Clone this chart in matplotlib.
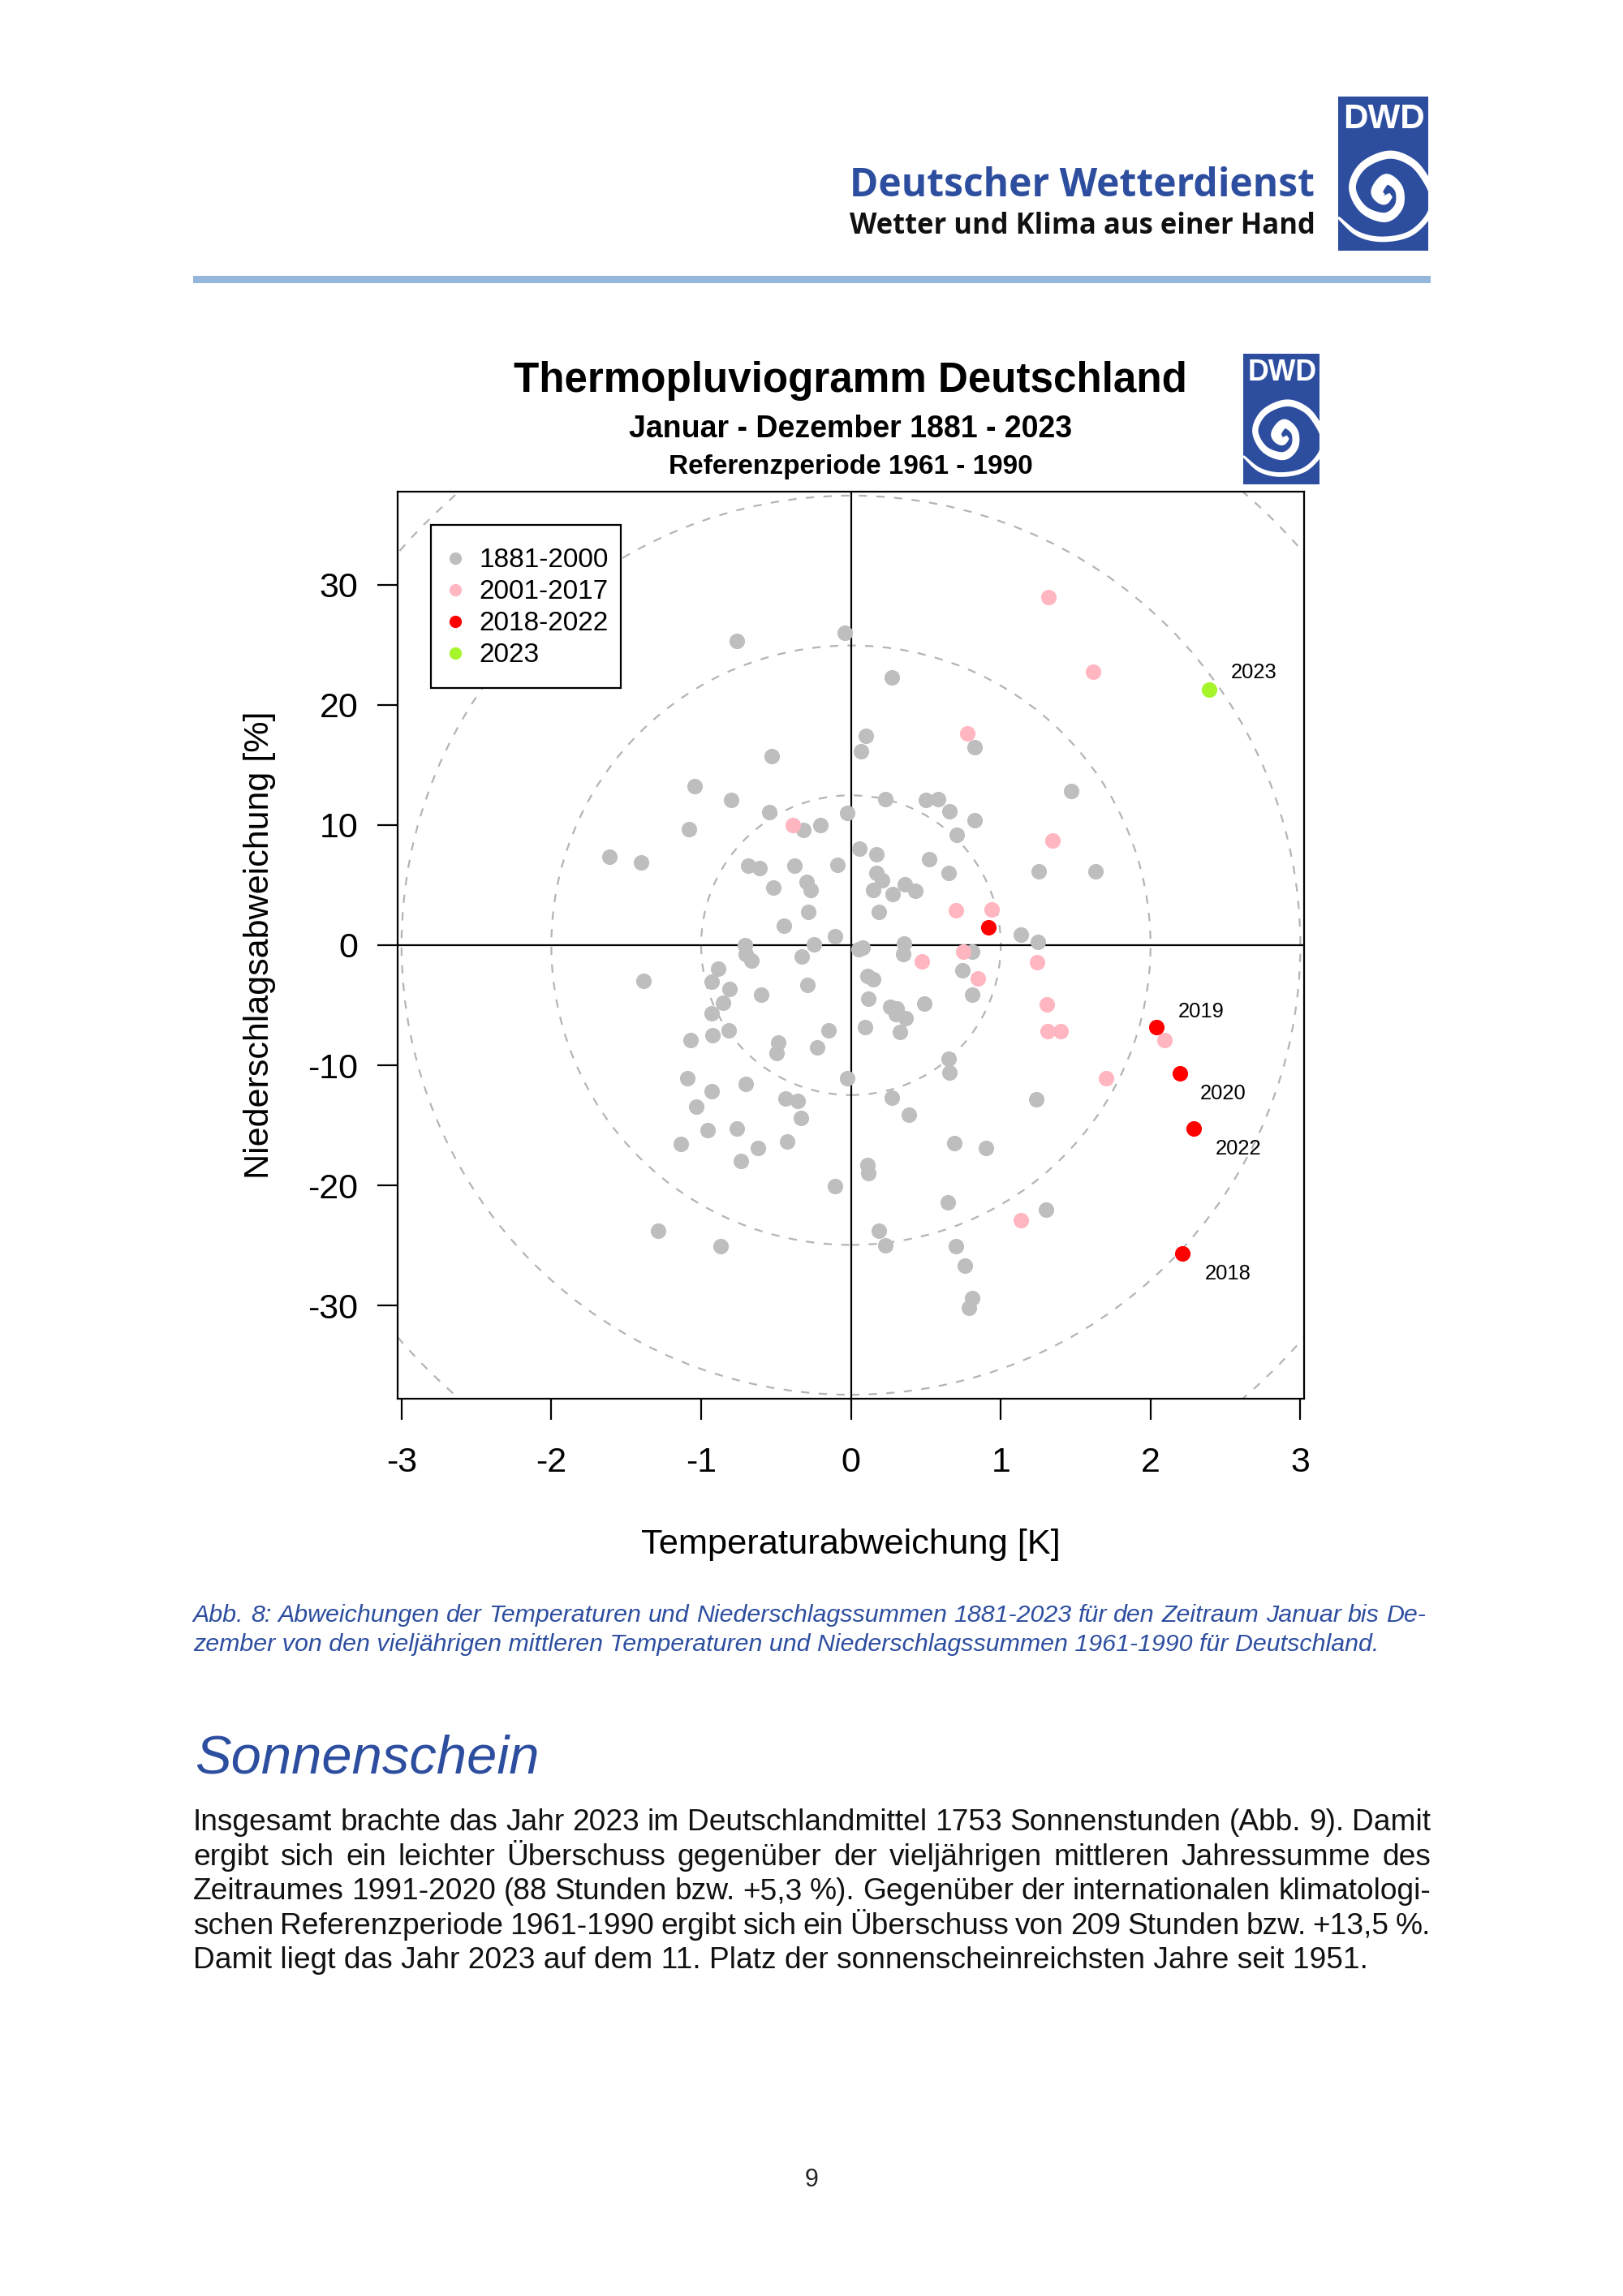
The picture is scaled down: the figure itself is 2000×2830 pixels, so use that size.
import numpy as np
import matplotlib
matplotlib.use("Agg")
import matplotlib.pyplot as plt
from matplotlib.lines import Line2D
from matplotlib.patches import Ellipse, Rectangle, Polygon

T_1881_2000 = [-0.760,-0.043,-0.526,-1.046,-0.798,-0.545,-1.082,-0.024,-0.317,-0.203,0.101,0.065,-1.612,-1.403,-0.685,-0.609,
 -0.379,-0.091,0.059,-0.296,-0.267,-0.520,-0.283,-0.449,-0.107,-0.248,-0.708,-0.702,-0.665,-0.327,-0.887,0.049,0.080,
 0.271,0.824,0.229,0.499,0.584,0.658,0.824,1.469,0.708,0.171,0.522,0.654,1.255,1.633,0.169,0.209,0.146,0.281,0.360,0.428,
 0.186,1.137,1.247,0.354,0.348,0.812,0.743,
 -1.386,-0.928,-0.810,-0.597,-0.856,-0.932,-0.292,-0.816,-0.922,-1.069,-0.149,-0.485,-0.497,-0.223,0.094,0.111,0.146,0.115,
 -1.090,-0.702,-0.928,-0.024,-1.032,-0.437,-0.354,-0.331,-0.957,-0.760,-1.135,-0.425,-0.619,-0.737,-0.105,0.112,0.117,
 -1.285,-0.872,0.188,
 0.812,0.488,0.260,0.304,0.298,0.364,0.329,0.652,0.658,0.271,0.389,1.237,0.690,0.901,0.648,1.303,0.229,0.702,0.760,0.812,0.789]
P_1881_2000 = [25.30,26.01,15.75,13.24,12.10,11.10,9.67,11.02,9.62,9.98,17.42,16.11,7.35,6.91,6.60,6.39,
 6.63,6.68,8.02,5.25,4.60,4.81,2.77,1.61,0.71,0.06,-0.02,-0.74,-1.26,-0.92,-1.96,-0.36,-0.18,
 22.28,16.47,12.18,12.10,12.18,11.17,10.42,12.82,9.18,7.55,7.14,6.03,6.16,6.16,6.03,5.38,4.60,4.24,5.07,4.55,
 2.77,0.89,0.26,0.11,-0.74,-0.54,-2.11,
 -2.95,-3.03,-3.67,-4.13,-4.82,-5.69,-3.34,-7.08,-7.47,-7.93,-7.08,-8.12,-8.97,-8.48,-6.80,-2.56,-2.82,-4.43,
 -11.09,-11.56,-12.15,-11.04,-13.46,-12.77,-12.95,-14.35,-15.38,-15.23,-16.54,-16.34,-16.85,-17.93,-20.03,-18.27,-19.00,
 -23.77,-25.02,-23.77,
 -4.13,-4.89,-5.15,-5.28,-5.72,-6.10,-7.21,-9.47,-10.63,-12.72,-14.13,-12.82,-16.44,-16.85,-21.40,-21.99,-24.97,-25.02,-26.70,-29.38,-30.21]
T_2001_2017 = [1.320,1.616,0.777,1.345,0.700,0.942,0.750,0.474,1.243,0.847,1.307,1.314,1.401,2.093,1.701,1.137,-0.389]
P_2001_2017 = [28.97,22.77,17.63,8.74,2.88,2.95,-0.54,-1.34,-1.41,-2.74,-4.94,-7.16,-7.16,-7.88,-11.09,-22.89,9.98]
T_2018_2022 = [2.215,2.041,2.195,0.920,2.288]
P_2018_2022 = [-25.66,-6.85,-10.70,1.46,-15.23]
T_2023 = [2.391]
P_2023 = [21.30]

YEAR_LABELS = ["2023","2019","2020","2022","2018"]
YEAR_LABEL_T = [2.692,2.340,2.485,2.584,2.516]
YEAR_LABEL_P = [22.85,-5.38,-12.17,-16.75,-27.16]

RINGS = [1,2,3,4]
RING_T = 1.0
RING_P = 12.47

XTICKS = [-3,-2,-1,0,1,2,3]
YTICKS = [-30,-20,-10,0,10,20,30]
LEGEND_LABELS = ["1881-2000","2001-2017","2018-2022","2023"]
COL_GRAY, COL_PINK, COL_RED, COL_GREEN = "#BEBEBE","#FFB6C1","#FF0000","#A6F52A"
BLUE = "#2D4E9F"

# outline of the logo's spiral, centre outwards, in a 330 x 570 logo box
SPIRAL_X = [194,167,142,177,222,222,172,92,52,92,187,272,327,347,330,262,162,72,0]
SPIRAL_Y = [361,378,348,303,338,403,443,413,333,253,213,243,313,373,438,503,523,503,443]
SPIRAL_W = [18,38,44,40,32,32,35,30,26,28,30,28,26,24,20,20,20,18,10]

ARIAL = "Liberation Sans"
W, H = 2000, 2830
fig = plt.figure(figsize=(W/200, H/200), dpi=200, facecolor="white")
rend = fig.canvas.get_renderer()
fx = lambda p: p/W
fy = lambda p: 1-p/H

def fit(t, target):
    bb = t.get_window_extent(rend)
    t.set_fontsize(t.get_fontsize()*target/max(bb.width, bb.height))
    return t

def line(x, y, s, target=None, **kw):
    kw.setdefault("family", ARIAL)
    kw.setdefault("fontsize", 12)
    kw.setdefault("va", "baseline")
    t = fig.text(fx(x), fy(y), s, **kw)
    if target:
        fit(t, target)
    return t

def justified(s, x0, x1, y, fs, **kw):
    words = s.split(" ")
    ts = [fig.text(fx(x0), fy(y), w, family=ARIAL, fontsize=fs, va="baseline", **kw) for w in words]
    ws = [t.get_window_extent(rend).width for t in ts]
    gap = (x1-x0-sum(ws))/(len(ws)-1)
    x = x0
    for t, w in zip(ts, ws):
        t.set_x(fx(x))
        x += w+gap

def catmull(a, n=24):
    a = np.asarray(a, float)
    p = np.r_[2*a[:1]-a[1:2], a, 2*a[-1:]-a[-2:-1]]
    out = []
    for i in range(1, len(p)-2):
        s = np.linspace(0, 1, n, endpoint=False)
        out.append(0.5*(2*p[i]+(p[i+1]-p[i-1])*s+(2*p[i-1]-5*p[i]+4*p[i+1]-p[i+2])*s**2
                        +(3*p[i]-p[i-1]-3*p[i+1]+p[i+2])*s**3))
    out.append(a[-1:])
    return np.concatenate(out)

def logo(x0, y0, x1, y1):
    k = (x1-x0)/330.0
    rect = Rectangle((fx(x0), fy(y1)), fx(x1-x0), (y1-y0)/H, transform=fig.transFigure, fc=BLUE, ec="none", zorder=5)
    fig.add_artist(rect)
    t = fig.text(fx((x0+x1)/2+1), fy(y0+70*k), "DWD", color="white", family=ARIAL, weight="bold",
                 ha="center", va="center_baseline", fontsize=12, zorder=6)
    fit(t, 300*k)
    sx, sy, sw = catmull(SPIRAL_X), catmull(SPIRAL_Y), catmull(SPIRAL_W)
    dx, dy = np.gradient(sx), np.gradient(sy)
    nn = np.hypot(dx, dy)
    nx, ny = -dy/nn, dx/nn
    px = x0+k*np.r_[sx+nx*sw/2, (sx-nx*sw/2)[::-1]]
    py = y0+k*np.r_[sy+ny*sw/2, (sy-ny*sw/2)[::-1]]
    poly = Polygon(np.column_stack([px/W, 1-py/H]), closed=True, transform=fig.transFigure, fc="white", ec="none", zorder=6)
    fig.add_artist(poly)
    poly.set_clip_path(rect)

# page header
line(1047, 242, "Deutscher Wetterdienst", 574, family="Open Sans", weight="bold", color=BLUE)
line(1047, 288, "Wetter und Klima aus einer Hand", 574, family="Open Sans", weight="bold", color="#111111")
logo(1649, 119, 1760, 309)
fig.add_artist(Rectangle((fx(238), fy(349)), fx(1525), 9/H, transform=fig.transFigure, fc="#95B7DB", ec="none"))

# chart titles
line(1048, 483, "Thermopluviogramm Deutschland", 832, weight="bold", ha="center")
line(1048, 539, "Januar - Dezember 1881 - 2023", 548, weight="bold", ha="center")
line(1048, 584, "Referenzperiode 1961 - 1990", 450, weight="bold", ha="center")
logo(1532, 436, 1626, 597)

# plot
ax = fig.add_axes([490/W, 1-1724/H, 1117/W, 1118/H])
ax.set_xlim(-3.026, 3.025)
ax.set_ylim(-37.74, 37.74)
for k in RINGS:
    ax.add_patch(Ellipse((0, 0), 2*k*RING_T, 2*k*RING_P, fc="none", ec="#B4B4B4", lw=0.8,
                         linestyle=(0, (4.6, 5.2)), zorder=1))
ax.axhline(0, color="black", lw=0.8, zorder=2)
ax.axvline(0, color="black", lw=0.8, zorder=2)
MS = 6.9
series = [(T_1881_2000, P_1881_2000, COL_GRAY), (T_2001_2017, P_2001_2017, COL_PINK),
          (T_2018_2022, P_2018_2022, COL_RED), (T_2023, P_2023, COL_GREEN)]
for tt, pp, c in series:
    ax.plot(tt, pp, ls="none", marker="o", ms=MS, mfc=c, mec="none", zorder=3)
for s, tt, pp in zip(YEAR_LABELS, YEAR_LABEL_T, YEAR_LABEL_P):
    ax.text(tt, pp, s, family=ARIAL, fontsize=9.2, ha="center", va="center_baseline", zorder=4)

for sp in ax.spines.values():
    sp.set_linewidth(0.8)
ax.set_xticks(XTICKS)
ax.set_yticks(YTICKS)
ax.set_xticklabels([str(v) for v in XTICKS], family=ARIAL, fontsize=15.5)
ax.set_yticklabels([str(v) for v in YTICKS], family=ARIAL, fontsize=15.5, va="center_baseline")
ax.tick_params(axis="x", length=9.4, width=0.8, pad=12)
ax.tick_params(axis="y", length=9, width=0.8, pad=8.5)
xl = ax.set_xlabel("Temperaturabweichung [K]", family=ARIAL, fontsize=15, va="center")
yl = ax.set_ylabel("Niederschlagsabweichung [%]", family=ARIAL, fontsize=15, va="center")
ax.xaxis.set_label_coords(0.5, (1724-1904)/1118)
ax.yaxis.set_label_coords((320-490)/1117, 0.5)
fit(xl, 515)
fit(yl, 577)

# legend: frame drawn apart so that its padding can differ from the entries'
ax.add_patch(Rectangle(((530.5-490)/1117, (1724-847.6)/1118), 234.5/1117, 201/1118, transform=ax.transAxes,
                       fc="white", ec="black", lw=0.8, zorder=5))
handles = [Line2D([], [], ls="none", marker="o", ms=5.5, mfc=c, mec="none") for c in (COL_GRAY, COL_PINK, COL_RED, COL_GREEN)]
leg = ax.legend(handles, LEGEND_LABELS, loc="upper left", bbox_to_anchor=((531-490)/1117, (1724-654.7)/1118), bbox_transform=ax.transAxes,
                borderaxespad=0, frameon=False, prop={"family": ARIAL, "size": 12},
                borderpad=0.62, handlelength=0.58, handletextpad=0.58, labelspacing=0.24)
leg.set_zorder(6)

# caption
cap2 = line(238, 2035, "zember von den vieljährigen mittleren Temperaturen und Niederschlagssummen 1961-1990 für Deutschland.", 1464,
            style="italic", color=BLUE)
justified("Abb. 8: Abweichungen der Temperaturen und Niederschlagssummen 1881-2023 für den Zeitraum Januar bis De-",
          238, 1757, 1999, cap2.get_fontsize(), style="italic", color=BLUE)

# section
line(240, 2186, "Sonnenschein", 426, style="italic", color=BLUE)
last = line(238, 2426, "Damit liegt das Jahr 2023 auf dem 11. Platz der sonnenscheinreichsten Jahre seit 1951.", 1445, color="#111111")
fs = last.get_fontsize()
BODY = ["Insgesamt brachte das Jahr 2023 im Deutschlandmittel 1753 Sonnenstunden (Abb. 9). Damit",
        "ergibt sich ein leichter Überschuss gegenüber der vieljährigen mittleren Jahressumme des",
        "Zeitraumes 1991-2020 (88 Stunden bzw. +5,3 %). Gegenüber der internationalen klimatologi-",
        "schen Referenzperiode 1961-1990 ergibt sich ein Überschuss von 209 Stunden bzw. +13,5 %."]
for s, y in zip(BODY, [2256, 2299, 2341, 2384]):
    justified(s, 238, 1763, y, fs, color="#111111")

line(1000, 2695, "9", fontsize=11, ha="center", color="#222222")

fig.savefig("out.png", dpi=200, facecolor="white")
